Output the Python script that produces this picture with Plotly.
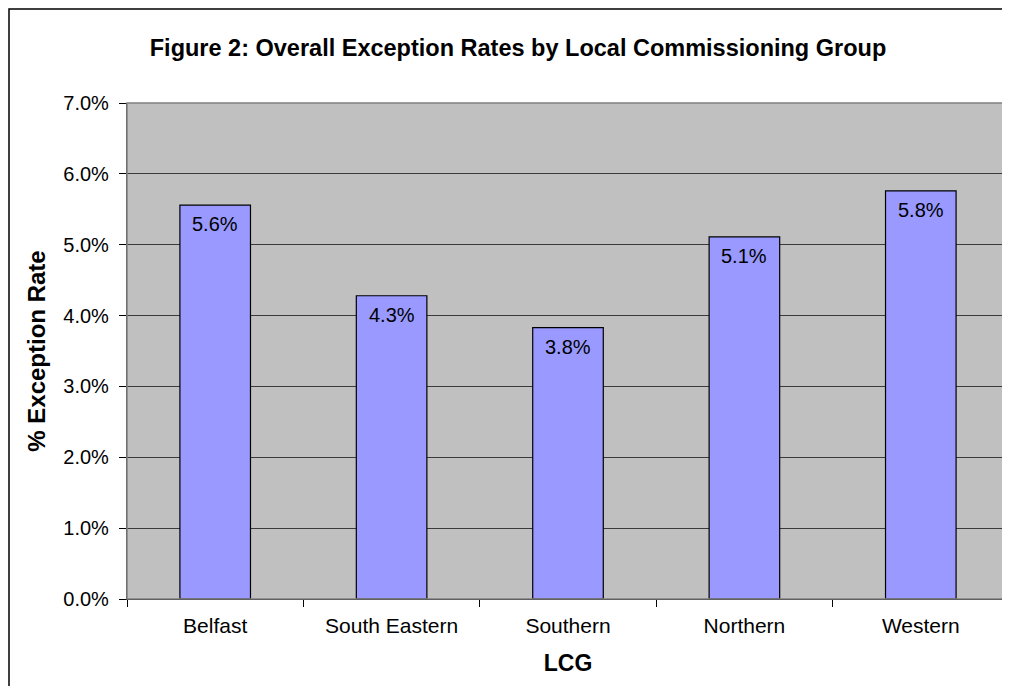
import plotly.graph_objects as go

categories = ["Belfast", "South Eastern", "Southern", "Northern", "Western"]
values = [5.56, 4.28, 3.83, 5.11, 5.76]
labels = ["5.6%", "4.3%", "3.8%", "5.1%", "5.8%"]
y_ticks = [0, 1, 2, 3, 4, 5, 6, 7]
y_tick_text = ["0.0%", "1.0%", "2.0%", "3.0%", "4.0%", "5.0%", "6.0%", "7.0%"]

FONT = "Arial, Liberation Sans, sans-serif"
# the page body has an 8px margin, so the figure is sized to fit the 1010x694 window
W, H = 1002, 678
L, R, T, B = 119, 1, 95, 87
pw = W - L - R
ph = H - T - B

fig = go.Figure()
fig.add_trace(go.Bar(
    x=categories, y=values,
    marker=dict(color="#9999FF", line=dict(color="black", width=1.2)),
    width=0.4,
    hoverinfo="skip",
))

for c, v, t in zip(categories, values, labels):
    fig.add_annotation(x=c, y=v, text=t, showarrow=False, yanchor="middle",
                       yshift=-19, font=dict(family=FONT, size=20, color="black"))

# plot area border (grey)
fig.add_shape(type="rect", xref="paper", yref="paper", x0=0, y0=0, x1=1, y1=1,
              line=dict(color="#808080", width=1.5), fillcolor="rgba(0,0,0,0)", layer="above")
# outer figure border (runs off the right and bottom of the window)
fig.add_shape(type="rect", xref="paper", yref="paper",
              x0=(1 - L) / pw, y0=(H - B - 1) / ph, x1=(W + 30 - L) / pw, y1=-(B + 30) / ph,
              line=dict(color="black", width=1.5), fillcolor="rgba(0,0,0,0)", layer="above")

fig.update_layout(
    width=W, height=H,
    margin=dict(l=L, r=R, t=T, b=B, autoexpand=False),
    paper_bgcolor="white", plot_bgcolor="#C0C0C0",
    showlegend=False,
    font=dict(family=FONT, color="black"),
    title=dict(text="<b>Figure 2: Overall Exception Rates by Local Commissioning Group</b>",
               x=510 / W, xanchor="center", xref="container",
               y=1 - 40 / H, yanchor="middle", yref="container",
               font=dict(family=FONT, size=23.5, color="black")),
    bargap=0.6,
)
fig.update_xaxes(
    tickson="boundaries", ticks="outside", ticklen=7, tickcolor="black",
    showline=True, linecolor="black", linewidth=1.2,
    tickfont=dict(family=FONT, size=21, color="black"),
    ticklabelstandoff=8,
    title=dict(text="<b>LCG</b>", font=dict(family=FONT, size=23, color="black"), standoff=18),
    showgrid=False, fixedrange=True,
)
fig.update_yaxes(
    range=[0, 7], tickvals=y_ticks, ticktext=y_tick_text,
    ticks="outside", ticklen=7, tickcolor="black",
    ticklabelstandoff=6,
    showline=True, linecolor="#404040", linewidth=1.2,
    showgrid=True, gridcolor="#3a3a3a", gridwidth=1,
    zeroline=False,
    tickfont=dict(family=FONT, size=20, color="black"),
    title=dict(text="<b>% Exception Rate</b>", font=dict(family=FONT, size=24, color="black"), standoff=10),
    fixedrange=True,
)

fig.write_html("out.html")
